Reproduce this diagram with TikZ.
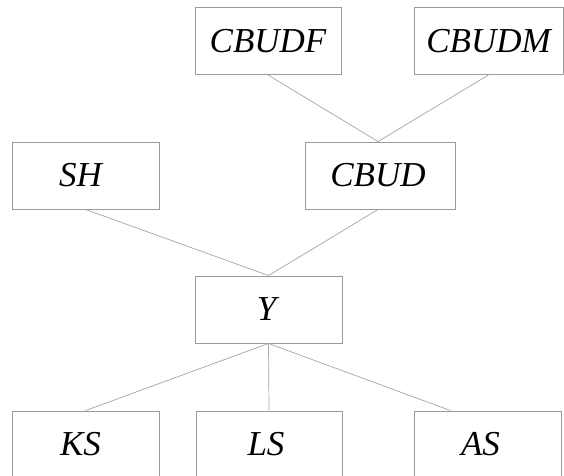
\documentclass[tikz,border=0pt]{standalone}
\usepackage{fontspec}
\setmainfont{Liberation Serif}
\usetikzlibrary{calc}
\definecolor{boxgray}{RGB}{155,155,155}
\definecolor{linkgray}{RGB}{165,165,165}
\begin{document}
\begin{tikzpicture}[x=1pt,y=-1pt,
  term/.style={draw=boxgray, line width=0.9pt, minimum height=67pt, inner sep=0pt,
    font=\fontsize{35}{38}\selectfont\itshape},
  link/.style={draw=linkgray, line width=0.7pt}]
\useasboundingbox[fill=white] (0,0) rectangle (564,475);
\clip (0,0) rectangle (564,475);

% top row
\node[term, minimum width=146pt] (cbudf) at (268,41) {CBUDF};
\node[term, minimum width=149pt] (cbudm) at (488.5,41) {CBUDM};
% second row
\node[term, minimum width=147pt] (sh) at (85.5,175.5) {SH\hspace*{10pt}};
\node[term, minimum width=150pt] (cbud) at (380,175.5) {CBUD\hspace*{4pt}};
% middle
\node[term, minimum width=147pt] (y) at (268.5,309.5) {Y\hspace*{4pt}};
% bottom row
\node[term, minimum width=147pt] (ks) at (85.5,444.5) {KS\hspace*{10pt}};
\node[term, minimum width=146pt] (ls) at (269,444.5) {LS\hspace*{6pt}};
\node[term, minimum width=147pt] (as) at (487.5,444.5) {AS\hspace*{14pt}};

\coordinate (cbudtop) at ($(cbud.north)+(-2,0)$);
\coordinate (cbudbot) at ($(cbud.south)+(-2,0)$);
\coordinate (astop) at ($(as.north west)!0.25!(as.north east)$);

\draw[link] (cbudf.south) -- (cbudtop);
\draw[link] (cbudm.south) -- (cbudtop);
\draw[link] (sh.south) -- (y.north);
\draw[link] (cbudbot) -- (y.north);
\draw[link] (y.south) -- (ks.north);
\draw[link] (y.south) -- (ls.north);
\draw[link] (y.south) -- (astop);
\end{tikzpicture}
\end{document}
